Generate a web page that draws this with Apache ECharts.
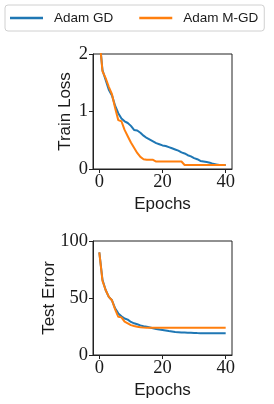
<!DOCTYPE html>
<html>
<head>
<meta charset="utf-8">
<script src="https://cdn.jsdelivr.net/npm/echarts@6/dist/echarts.min.js"></script>
<style>
html,body{margin:0;padding:0;background:#fff;}
#c{width:274px;height:404px;}
</style>
</head>
<body>
<div id="c"></div>
<script>
const epochs = [0,1,2,3,4,5,6,7,8,9,10,11,12,13,14,15,16,17,18,19,20,21,22,23,24,25,26,27,28,29,30,31,32,33,34,35,36,37,38,39,40];
const seriesNames = ['Adam GD', 'Adam M-GD'];
const trainLossGD = [2.3,1.72,1.55,1.38,1.28,1.10,0.97,0.88,0.83,0.80,0.75,0.68,0.67,0.63,0.58,0.54,0.51,0.48,0.45,0.43,0.41,0.40,0.38,0.36,0.34,0.32,0.29,0.27,0.24,0.22,0.19,0.17,0.14,0.13,0.12,0.11,0.09,0.08,0.07,0.07,0.07];
const trainLossMGD = [2.3,1.70,1.58,1.43,1.30,1.06,0.85,0.83,0.68,0.57,0.46,0.37,0.28,0.21,0.17,0.16,0.16,0.16,0.13,0.13,0.13,0.13,0.13,0.13,0.13,0.13,0.13,0.07,0.07,0.07,0.07,0.07,0.07,0.07,0.07,0.07,0.07,0.07,0.07,0.07,0.07];
const testErrGD = [90,66,57,51,48,41,36.5,34,32,31,29,27.8,27,26,25.3,24.8,24.1,23.4,22.8,22.3,21.9,21.5,21.0,20.6,20.2,20.0,19.8,19.7,19.6,19.5,19.4,19.2,19.1,19.0,19.0,19.0,19.0,19.0,19.0,19.0,19.0];
const testErrMGD = [90,65,57,51,48,40,33.5,33,29.2,27.7,26.2,25.4,24.8,24.3,24.1,24,24,24,24,24,24,24,24,24,24,24,24,24,24,24,24,24,24,24,24,24,24,24,24,24,24];
const xTicks = [0,20,40];
const yLabels = ['Train Loss', 'Test Error'];
const xLabel = 'Epochs';

const colors = ['#1f77b4', '#ff7f0e'];
const pair = arr => epochs.map((e, i) => [e, arr[i]]);

const tickFont = {fontFamily: 'Liberation Serif', fontSize: 18.5, color: '#1a1a1a'};
const nameFont = {fontFamily: 'Liberation Sans', fontSize: 17, color: '#1a1a1a'};
const lineCol = '#222';

function xAxis(gi) {
  return {
    gridIndex: gi, type: 'value', min: -2, max: 42,
    name: xLabel, nameLocation: 'middle', nameGap: 27, nameTextStyle: nameFont, nameMoveOverlap: false,
    axisLine: {show: true, onZero: false, lineStyle: {color: lineCol, width: 1}},
    axisTick: {show: true, length: 4, customValues: xTicks, lineStyle: {color: lineCol, width: 1}},
    axisLabel: {customValues: xTicks, margin: 4, ...tickFont},
    splitLine: {show: false}
  };
}
function yAxis(gi, max, interval, gap) {
  return {
    gridIndex: gi, type: 'value', min: 0, max: max, interval: interval,
    name: yLabels[gi], nameLocation: 'middle', nameGap: gap, nameTextStyle: nameFont, nameMoveOverlap: false,
    axisLine: {show: true, onZero: false, lineStyle: {color: lineCol, width: 1}},
    axisTick: {show: true, length: 4, lineStyle: {color: lineCol, width: 1}},
    axisLabel: {margin: 5, ...tickFont},
    splitLine: {show: false}
  };
}
function line(name, data, xi, ci) {
  return {
    name: name, type: 'line', xAxisIndex: xi, yAxisIndex: xi,
    data: pair(data), symbol: 'none', showSymbol: false, clip: true,
    lineStyle: {width: 2, color: colors[ci]}, itemStyle: {color: colors[ci]},
    animation: false
  };
}

const chart = echarts.init(document.getElementById('c'), null, {renderer: 'canvas'});
chart.setOption({
  animation: false,
  backgroundColor: '#fff',
  legend: {
    data: seriesNames, left: 5, top: 5,
    icon: 'rect', itemWidth: 33, itemHeight: 2.5, itemGap: 26,
    padding: [6, 6, 6, 5],
    backgroundColor: '#fff', borderColor: '#d0d0d0', borderWidth: 1, borderRadius: 3,
    textStyle: {fontFamily: 'Liberation Sans', fontSize: 13.5, color: '#1a1a1a', padding: [0, 0, 0, 6]}
  },
  grid: [
    {left: 93, top: 54, width: 139, height: 115, show: true, borderColor: lineCol, borderWidth: 1, backgroundColor: 'transparent'},
    {left: 93, top: 241, width: 139, height: 114, show: true, borderColor: lineCol, borderWidth: 1, backgroundColor: 'transparent'}
  ],
  xAxis: [xAxis(0), xAxis(1)],
  yAxis: [yAxis(0, 2, 1, 19), yAxis(1, 100, 50, 35)],
  series: [
    line(seriesNames[0], trainLossGD, 0, 0),
    line(seriesNames[1], trainLossMGD, 0, 1),
    line(seriesNames[0], testErrGD, 1, 0),
    line(seriesNames[1], testErrMGD, 1, 1)
  ]
});
</script>
</body>
</html>
